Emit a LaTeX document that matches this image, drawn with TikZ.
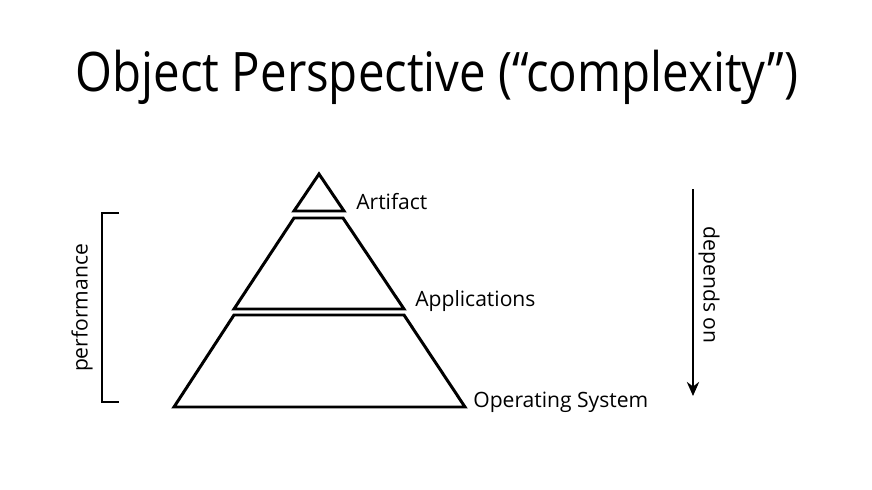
\documentclass[tikz,border=0pt]{standalone}
\usepackage{fontspec}
\setmainfont{Open Sans}
\newfontfamily\titlefont[FakeStretch=0.87]{Open Sans}
\usetikzlibrary{arrows.meta}
\usetikzlibrary{positioning}

\begin{document}
\begin{tikzpicture}[x=0.02cm,y=-0.02cm,
  layer/.style={draw,line width=1.7pt,line join=miter},
  lbl/.style={anchor=base west,inner sep=0pt,font=\fontsize{12}{14}\selectfont},
  side/.style={inner sep=0pt,font=\fontsize{12}{14}\selectfont}]
\useasboundingbox (0,0) rectangle (872,490);
\node[inner sep=0pt,anchor=base,font=\titlefont\fontsize{31}{36}\selectfont] (title) at (437,91) {Object Perspective (“complexity”)};

% pyramid
\draw[layer] (319,174)--(344,211)--(294,211)--cycle;
\draw[layer] (294,218)--(343,218)--(404,309)--(234,309)--cycle;
\draw[layer] (234,315)--(404,315)--(465,407)--(174,407)--cycle;
\node[lbl] (artifact) at (356,209) {Artifact};
\node[lbl] (apps) at (415,306) {Applications};
\node[lbl] (os) at (473,407) {Operating System};

% bracket
\coordinate (btop) at (119,213);
\coordinate (bbot) at (119,402);
\draw[line width=1.2pt] (btop)--(102,213)--(102,402)--(bbot);
\node[side,rotate=90] (perf) at (82,308) {performance};

% arrow
\coordinate (dtop) at (693,189);
\coordinate (dbot) at (693,396);
\draw[line width=1.2pt,-{Stealth[length=8pt,width=7pt]}] (dtop)--(dbot);
\node[side,rotate=-90] (dep) at (709,285) {depends on};
\end{tikzpicture}
\end{document}
